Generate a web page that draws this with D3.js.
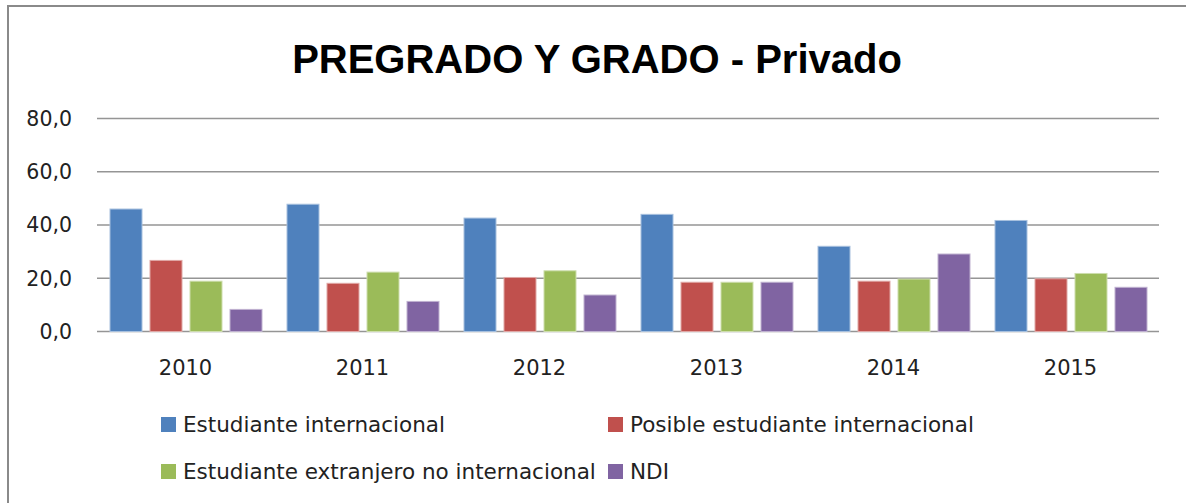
<!DOCTYPE html>
<html>
<head>
<meta charset="utf-8">
<script src="https://cdn.jsdelivr.net/npm/d3@7"></script>
<style>
  body { margin: 0; background: #fff; }
  svg { display: block; }
</style>
</head>
<body>
<script>
var years = ["2010", "2011", "2012", "2013", "2014", "2015"];
var seriesNames = ["Estudiante internacional", "Posible estudiante internacional",
                   "Estudiante extranjero no internacional", "NDI"];
var internacional = [46.0, 47.8, 42.6, 44.0, 32.0, 41.7];
var posible = [26.7, 18.1, 20.3, 18.5, 18.9, 19.8];
var extranjero = [18.9, 22.3, 22.8, 18.5, 19.7, 21.8];
var ndi = [8.3, 11.3, 13.7, 18.5, 29.1, 16.6];
var yTicks = [0, 20, 40, 60, 80];
var colors = ["#4F81BD", "#C0504D", "#9BBB59", "#8064A2"];
var strokes = ["#A7C0DE", "#E0A8A6", "#CDDDAC", "#BFB1D0"];

var series = [internacional, posible, extranjero, ndi];

var width = 1186, height = 503;
var svg = d3.select("body").append("svg")
    .attr("width", width)
    .attr("height", height);

// outer chart frame (cut off at right and bottom)
svg.append("rect")
    .attr("x", 8).attr("y", 6)
    .attr("width", 1200).attr("height", 600)
    .attr("fill", "#fff")
    .attr("stroke", "#8a8a8a")
    .attr("stroke-width", 2);

svg.append("text")
    .attr("x", 597)
    .attr("y", 73)
    .attr("text-anchor", "middle")
    .style("font-family", "'Liberation Sans', Arial, sans-serif")
    .style("font-weight", "bold")
    .style("font-size", "40px")
    .style("fill", "#000")
    .text("PREGRADO Y GRADO - Privado");

var plotLeft = 97, plotRight = 1159;
var y = d3.scaleLinear().domain([0, 80]).range([331.5, 118.5]);
var x0 = d3.scaleBand().domain(years).range([plotLeft, plotRight]).padding(0);
var x1 = d3.scaleBand().domain(d3.range(series.length))
    .range([13, 165]).paddingInner(0.2).paddingOuter(0);

// gridlines
svg.append("g").selectAll("line")
    .data(yTicks)
    .enter().append("line")
    .attr("x1", plotLeft).attr("x2", plotRight)
    .attr("y1", function(d) { return y(d); })
    .attr("y2", function(d) { return y(d); })
    .attr("stroke", "#959595")
    .attr("stroke-width", 1.5);

// y tick labels
svg.append("g").selectAll("text")
    .data(yTicks)
    .enter().append("text")
    .attr("x", 72)
    .attr("y", function(d) { return y(d); })
    .attr("dy", "0.36em")
    .attr("text-anchor", "end")
    .style("font-family", "'DejaVu Sans', sans-serif")
    .style("font-size", "20.5px")
    .style("fill", "#222")
    .text(function(d) { return d3.format(".1f")(d).replace(".", ","); });

// bars
var groups = svg.append("g").selectAll("g")
    .data(years)
    .enter().append("g")
    .attr("transform", function(d) { return "translate(" + x0(d) + ",0)"; });

groups.selectAll("rect")
    .data(function(d, i) { return series.map(function(s, k) { return {k: k, v: s[i]}; }); })
    .enter().append("rect")
    .attr("x", function(d) { return x1(d.k); })
    .attr("width", x1.bandwidth())
    .attr("y", function(d) { return y(d.v); })
    .attr("height", function(d) { return y(0) - y(d.v); })
    .attr("fill", function(d) { return colors[d.k]; })
    .attr("stroke", function(d) { return strokes[d.k]; })
    .attr("stroke-width", 1);

// x category labels
svg.append("g").selectAll("text")
    .data(years)
    .enter().append("text")
    .attr("x", function(d) { return x0(d) + x0.bandwidth() / 2; })
    .attr("y", 375)
    .attr("text-anchor", "middle")
    .style("font-family", "'DejaVu Sans', sans-serif")
    .style("font-size", "21px")
    .style("fill", "#222")
    .text(function(d) { return d; });

// legend
var legendPos = [[161, 432], [608, 432], [161, 479], [608, 479]];
var legend = svg.append("g").selectAll("g")
    .data(seriesNames)
    .enter().append("g")
    .attr("transform", function(d, i) { return "translate(" + legendPos[i][0] + "," + legendPos[i][1] + ")"; });

legend.append("rect")
    .attr("x", 0).attr("y", -15)
    .attr("width", 15).attr("height", 15)
    .attr("fill", function(d, i) { return colors[i]; });

legend.append("text")
    .attr("x", 22)
    .attr("y", 0)
    .style("font-family", "'DejaVu Sans', sans-serif")
    .style("font-size", "21.5px")
    .style("fill", "#222")
    .text(function(d) { return d; });
</script>
</body>
</html>
